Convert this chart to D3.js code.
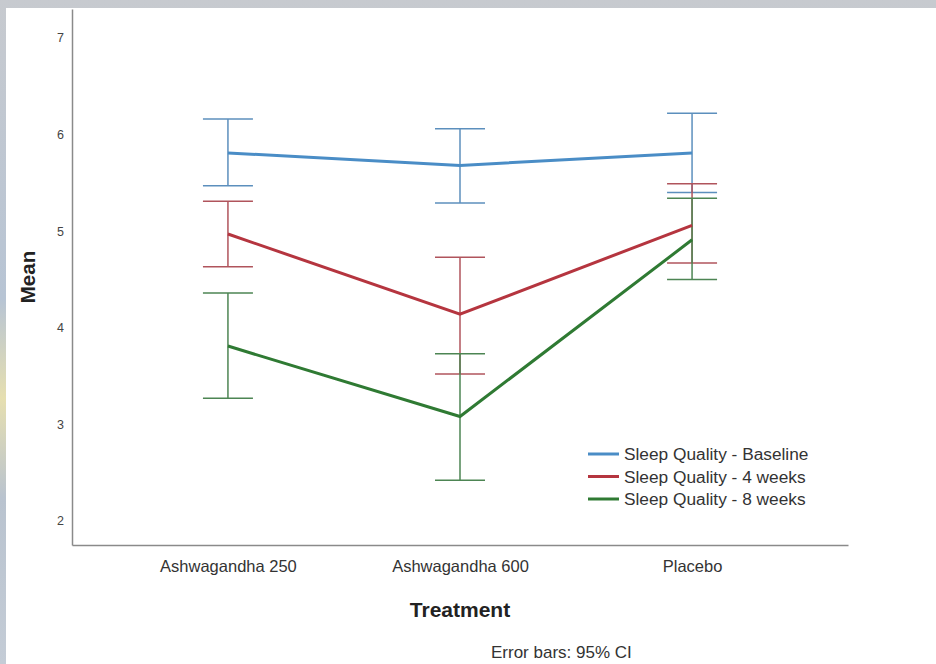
<!DOCTYPE html>
<html>
<head>
<meta charset="utf-8">
<script src="https://cdn.jsdelivr.net/npm/d3@7"></script>
<style>
  html, body { margin: 0; padding: 0; background: #c9ced5; }
  svg { display: block; }
  text { font-family: "Liberation Sans", Arial, sans-serif; }
</style>
</head>
<body>
<svg id="chart" width="936" height="664"></svg>
<script>
const categories = ["Ashwagandha 250", "Ashwagandha 600", "Placebo"];
const seriesNames = ["Sleep Quality - Baseline", "Sleep Quality - 4 weeks", "Sleep Quality - 8 weeks"];
const baselineMean = [5.81, 5.68, 5.81];
const baselineLow  = [5.47, 5.29, 5.40];
const baselineHigh = [6.16, 6.06, 6.22];
const week4Mean = [4.97, 4.14, 5.06];
const week4Low  = [4.63, 3.52, 4.67];
const week4High = [5.31, 4.73, 5.49];
const week8Mean = [3.81, 3.08, 4.91];
const week8Low  = [3.27, 2.42, 4.50];
const week8High = [4.36, 3.73, 5.34];
const yTicks = [2, 3, 4, 5, 6, 7];

const colors = ["#4a8dc6", "#b5353f", "#2f7a33"];
const barColors = ["#5c8fbd", "#b0545c", "#4d8553"];

const series = [
  { name: seriesNames[0], mean: baselineMean, low: baselineLow, high: baselineHigh },
  { name: seriesNames[1], mean: week4Mean, low: week4Low, high: week4High },
  { name: seriesNames[2], mean: week8Mean, low: week8Low, high: week8High }
];

const svg = d3.select("#chart");

// background and white panel
const defs = svg.append("defs");
const grad = defs.append("linearGradient").attr("id", "bg").attr("x1", 0).attr("y1", 0).attr("x2", 0).attr("y2", 1);
grad.append("stop").attr("offset", "0%").attr("stop-color", "#c7cacf");
grad.append("stop").attr("offset", "45%").attr("stop-color", "#b7c4d4");
grad.append("stop").attr("offset", "60%").attr("stop-color", "#e6dfb0");
grad.append("stop").attr("offset", "75%").attr("stop-color", "#b9c3cf");
grad.append("stop").attr("offset", "100%").attr("stop-color", "#c4ccd6");
svg.append("rect").attr("width", 936).attr("height", 664).attr("fill", "url(#bg)");
svg.append("rect").attr("x", 6).attr("y", 8).attr("width", 930).attr("height", 656).attr("fill", "#ffffff");

const x = d3.scalePoint().domain(categories).range([72, 848]).padding(0.672);
const y = d3.scaleLinear().domain([1.75, 7.3]).range([545, 9]);

// axes
const yAxis = svg.append("g").attr("transform", "translate(72,0)")
  .call(d3.axisLeft(y).tickValues(yTicks).tickSize(0).tickPadding(8).tickFormat(d3.format("d")));
yAxis.select(".domain").attr("stroke", "#8a8a8a").attr("stroke-width", 1.5);
yAxis.selectAll("text").attr("font-size", 12.5).attr("fill", "#444")
  .attr("font-family", "Liberation Sans, Arial, sans-serif");

const xAxis = svg.append("g").attr("transform", "translate(0,545)")
  .call(d3.axisBottom(x).tickSize(0).tickPadding(15));
xAxis.select(".domain").attr("stroke", "#8a8a8a").attr("stroke-width", 1.5);
xAxis.selectAll("text").attr("font-size", 16.5).attr("fill", "#333")
  .attr("font-family", "Liberation Sans, Arial, sans-serif");

// error bars
const capHalf = 25;
series.forEach((s, i) => {
  const g = svg.append("g").attr("stroke", barColors[i]).attr("stroke-width", 1.5).attr("fill", "none");
  categories.forEach((c, j) => {
    const cx = x(c);
    g.append("line").attr("x1", cx).attr("x2", cx).attr("y1", y(s.low[j])).attr("y2", y(s.high[j]));
    g.append("line").attr("x1", cx - capHalf).attr("x2", cx + capHalf).attr("y1", y(s.low[j])).attr("y2", y(s.low[j]));
    g.append("line").attr("x1", cx - capHalf).attr("x2", cx + capHalf).attr("y1", y(s.high[j])).attr("y2", y(s.high[j]));
  });
});

// mean lines
const line = d3.line().x((d, j) => x(categories[j])).y(d => y(d));
series.forEach((s, i) => {
  svg.append("path").datum(s.mean).attr("d", line)
    .attr("fill", "none").attr("stroke", colors[i]).attr("stroke-width", 3).attr("stroke-linejoin", "miter");
});

// legend
const legend = svg.append("g");
series.forEach((s, i) => {
  const ly = 454 + i * 22.5;
  legend.append("line").attr("x1", 588).attr("x2", 619).attr("y1", ly).attr("y2", ly)
    .attr("stroke", colors[i]).attr("stroke-width", 3);
  legend.append("text").attr("x", 624).attr("y", ly + 6).attr("font-size", 17.3).attr("fill", "#333").text(s.name);
});

// axis titles
svg.append("text").attr("x", 460).attr("y", 617).attr("text-anchor", "middle")
  .attr("font-size", 21).attr("font-weight", "bold").attr("fill", "#222").text("Treatment");
svg.append("text").attr("transform", "translate(35,277) rotate(-90)").attr("text-anchor", "middle")
  .attr("font-size", 20.5).attr("font-weight", "bold").attr("fill", "#222").text("Mean");
svg.append("text").attr("x", 491).attr("y", 658).attr("font-size", 17).attr("fill", "#333").text("Error bars: 95% CI");
</script>
</body>
</html>
